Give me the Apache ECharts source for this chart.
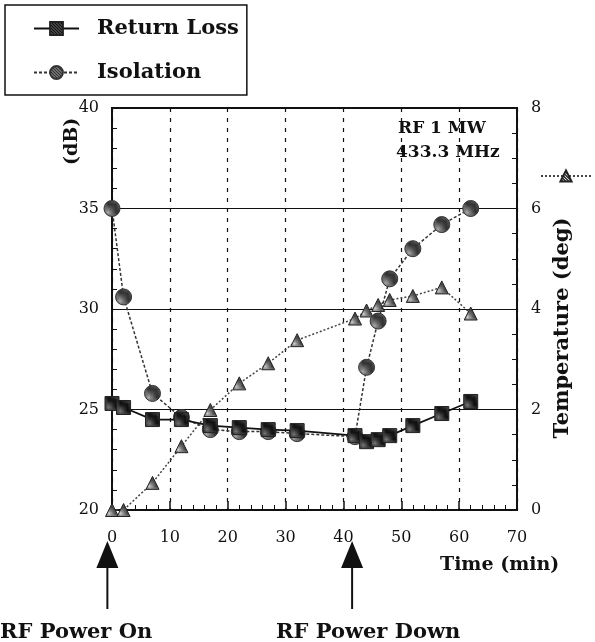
<!DOCTYPE html>
<html>
<head>
<meta charset="utf-8">
<script src="https://cdn.jsdelivr.net/npm/echarts@6/dist/echarts.min.js"></script>
<style>
  html, body { margin: 0; padding: 0; background: #fff; }
  #chart { width: 595px; height: 642px; }
</style>
</head>
<body>
<div id="chart"></div>
<script>
// values
var timeMin = [0, 2, 7, 12, 17, 22, 27, 32, 42, 44, 46, 48, 52, 57, 62];
var returnLoss = [25.3, 25.1, 24.5, 24.5, 24.2, 24.1, 24.0, 23.95, 23.7, 23.4, 23.5, 23.7, 24.2, 24.8, 25.4];
var isolation = [35.0, 30.6, 25.8, 24.6, 24.0, 23.9, 23.9, 23.8, 23.65, 27.1, 29.4, 31.5, 33.0, 34.2, 35.0];
var temperature = [0, 0, 0.54, 1.27, 1.99, 2.52, 2.92, 3.38, 3.81, 3.97, 4.08, 4.18, 4.26, 4.43, 3.91];
var xTicks = [0, 10, 20, 30, 40, 50, 60, 70];
var dbTicks = [20, 25, 30, 35, 40];
var degTicks = [0, 2, 4, 6, 8];
var arrowAt = [-0.8, 41.5]; // RF power on / power down

var serif = "'DejaVu Serif', 'Liberation Serif', serif";

function pairs(ys) {
  return timeMin.map(function (t, i) { return [t, ys[i]]; });
}

// small dither pattern, like the print
function dither(dark, light) {
  var c = document.createElement("canvas");
  c.width = 3; c.height = 3;
  var ctx = c.getContext("2d");
  ctx.fillStyle = light;
  ctx.fillRect(0, 0, 3, 3);
  ctx.fillStyle = dark;
  ctx.fillRect(0, 0, 2, 1);
  ctx.fillRect(1, 1, 2, 1);
  ctx.fillRect(0, 2, 1, 1);
  ctx.fillRect(2, 2, 1, 1);
  return { image: c, repeat: "repeat" };
}

var chart = echarts.init(document.getElementById("chart"));

var option = {
  backgroundColor: "#fff",
  animation: false,
  grid: {
    left: 112, right: 78, top: 108, bottom: 132,
    show: true, borderColor: "#111", borderWidth: 2
  },
  legend: [
    {
      data: ["Return Loss", "Isolation"],
      orient: "vertical",
      left: 5, top: 5,
      padding: [13, 8, 12, 28],
      itemGap: 23,
      itemWidth: 45, itemHeight: 16,
      borderColor: "#111", borderWidth: 1.5,
      textStyle: {
        fontFamily: serif, fontWeight: "bold", fontSize: 21, color: "#111",
        padding: [0, 0, 0, 13]
      }
    },
    {
      data: ["Temperature"],
      left: 535, top: 164,
      itemWidth: 50, itemHeight: 14,
      formatter: function () { return ""; }
    }
  ],
  xAxis: {
    type: "value",
    min: 0, max: 70, interval: 10,
    axisLine: { lineStyle: { color: "#111", width: 2 } },
    axisTick: { inside: true, length: 9, lineStyle: { color: "#111", width: 1.5 } },
    minorTick: { show: true, splitNumber: 5, length: 5, lineStyle: { color: "#111" } },
    splitLine: { show: true, lineStyle: { color: "#111", type: [4, 6], width: 1.2 } },
    axisLabel: {
      margin: 20, fontFamily: serif, fontSize: 16, color: "#111",
      formatter: function (v) { return xTicks.indexOf(v) >= 0 ? String(v) : ""; }
    }
  },
  yAxis: [
    {
      type: "value",
      min: 20, max: 40, interval: 5,
      axisLine: { show: true, lineStyle: { color: "#111", width: 2 } },
      axisTick: { inside: true, length: 8, lineStyle: { color: "#111" } },
      minorTick: { show: true, splitNumber: 5, length: 5, lineStyle: { color: "#111" } },
      splitLine: { show: true, lineStyle: { color: "#111", width: 1 } },
      axisLabel: {
        margin: 13, fontFamily: serif, fontSize: 16, color: "#111",
        formatter: function (v) { return dbTicks.indexOf(v) >= 0 ? String(v) : ""; }
      }
    },
    {
      type: "value",
      min: 0, max: 8, interval: 2,
      position: "right",
      axisLine: { show: true, lineStyle: { color: "#111", width: 2 } },
      axisTick: { inside: true, length: 8, lineStyle: { color: "#111" } },
      minorTick: { show: true, splitNumber: 4, length: 5, lineStyle: { color: "#111" } },
      splitLine: { show: false },
      axisLabel: {
        margin: 14, fontFamily: serif, fontSize: 16, color: "#111",
        formatter: function (v) { return degTicks.indexOf(v) >= 0 ? String(v) : ""; }
      }
    }
  ],
  series: [
    {
      name: "Temperature",
      type: "line",
      yAxisIndex: 1,
      data: pairs(temperature),
      symbol: "triangle",
      symbolSize: 13,
      itemStyle: { color: dither("#444", "#ccc"), borderColor: "#222", borderWidth: 1 },
      lineStyle: { color: "#444", width: 1.5, type: [2, 2] },
      z: 2
    },
    {
      name: "Isolation",
      type: "line",
      data: pairs(isolation),
      symbol: "circle",
      symbolSize: 16,
      itemStyle: { color: dither("#333", "#aaa"), borderColor: "#333", borderWidth: 1 },
      lineStyle: { color: "#333", width: 1.5, type: [3, 2] },
      z: 3
    },
    {
      name: "Return Loss",
      type: "line",
      data: pairs(returnLoss),
      symbol: "rect",
      symbolSize: 14,
      itemStyle: { color: dither("#111", "#777"), borderColor: "#222", borderWidth: 1 },
      lineStyle: { color: "#111", width: 1.8 },
      z: 4
    }
  ]
};

chart.setOption(option);

// labels and arrows placed from the axes
var ax0 = chart.convertToPixel({ xAxisIndex: 0 }, arrowAt[0]);
var ax1 = chart.convertToPixel({ xAxisIndex: 0 }, arrowAt[1]);
var boldText = { fontFamily: serif, fontWeight: "bold", fill: "#111" };

function arrow(x) {
  return [
    { type: "polygon", shape: { points: [[x, 541], [x - 11, 568], [x + 11, 568]] }, style: { fill: "#111" } },
    { type: "line", shape: { x1: x, y1: 562, x2: x, y2: 609 }, style: { stroke: "#111", lineWidth: 2 } }
  ];
}

chart.setOption({
  graphic: [
    { type: "text", left: 398, top: 120, style: Object.assign({ text: "RF 1 MW", fontSize: 17 }, boldText) },
    { type: "text", left: 396, top: 144, style: Object.assign({ text: "433.3 MHz", fontSize: 17 }, boldText) },
    { type: "text", x: 63, y: 165, rotation: Math.PI / 2,
      style: Object.assign({ text: "(dB)", fontSize: 19, align: "left", verticalAlign: "top" }, boldText) },
    { type: "text", x: 552, y: 328, rotation: Math.PI / 2,
      style: Object.assign({ text: "Temperature (deg)", fontSize: 21, align: "center", verticalAlign: "top" }, boldText) },
    { type: "text", left: 440, top: 556, style: Object.assign({ text: "Time (min)", fontSize: 19 }, boldText) },
    { type: "text", left: 0, top: 622, style: Object.assign({ text: "RF Power On", fontSize: 21 }, boldText) },
    { type: "text", left: 276, top: 622, style: Object.assign({ text: "RF Power Down", fontSize: 21 }, boldText) }
  ].concat(arrow(ax0)).concat(arrow(ax1))
});
</script>
</body>
</html>
